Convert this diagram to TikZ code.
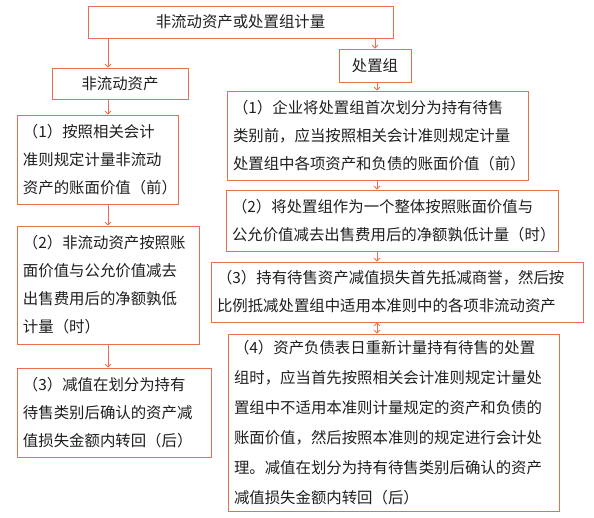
\documentclass[tikz,border=0pt]{standalone}
\usepackage{fontspec}
\setmainfont{Noto Sans CJK SC}
\usetikzlibrary{arrows.meta,positioning}
\definecolor{boxline}{RGB}{232,112,80}
\definecolor{boxtext}{RGB}{30,30,30}
\tikzset{
  stepbox/.style={draw=boxline, line width=0.8pt, rectangle, text=boxtext,
    inner xsep=6pt, inner ysep=0pt, align=left,
    font=\fontsize{15.4pt}{28pt}\selectfont},
  headbox/.style={stepbox, align=center},
  link/.style={draw=boxline, line width=0.8pt},
}

\begin{document}
\begin{tikzpicture}[x=1pt,y=1pt,>={Straight Barb[length=3pt,width=6pt]}]
                            % \draw[help lines] (0,0) grid[step=50] (594,517);
                            \useasboundingbox (0,0) rectangle (594,517);

                            \node[headbox, minimum width=305pt, minimum height=32pt] (total) at (240.5,495) {非流动资产或处置组计量};
                            \node[headbox, minimum width=136pt, minimum height=31pt] (nca)   at (120,433.5) {非流动资产};
                            \node[headbox, minimum width=72pt,  minimum height=33pt] (group) at (375,451.5) {处置组};

                            \node[stepbox, text width=149pt, minimum height=89pt]  (nca1) at (97.5,357.5) {（1）按照相关会计\\准则规定计量非流动\\资产的账面价值（前）};
                            \node[stepbox, text width=170pt, minimum height=118pt] (nca2) at (108,232) {（2）非流动资产按照账\\面价值与公允价值减去\\出售费用后的净额孰低\\计量（时）};
                            \node[stepbox, text width=182pt, minimum height=89pt]  (nca3) at (114,104.5) {（3）减值在划分为持有\\待售类别后确认的资产减\\值损失金额内转回（后）};

                            \node[stepbox, text width=289pt, minimum height=89pt]  (grp1) at (377.5,381.5) {（1）企业将处置组首次划分为持有待售\\类别前，应当按照相关会计准则规定计量\\处置组中各项资产和负债的账面价值（前）};
                            \node[stepbox, text width=320pt, minimum height=61pt]  (grp2) at (392,296.5) {（2）将处置组作为一个整体按照账面价值与\\公允价值减去出售费用后的净额孰低计量（时）};
                            \node[stepbox, text width=360pt, minimum height=60pt]  (grp3) at (397,225) {（3）持有待售资产减值损失首先抵减商誉，然后按\\比例抵减处置组中适用本准则中的各项非流动资产};
                            \node[stepbox, text width=319pt, minimum height=177pt, font=\fontsize{15.4pt}{30pt}\selectfont] (grp4) at (393.5,94.5) {（4）资产负债表日重新计量持有待售的处置\\组时，应当首先按照相关会计准则规定计量处\\置组中不适用本准则计量规定的资产和负债的\\账面价值，然后按照本准则的规定进行会计处\\理。减值在划分为持有待售类别后确认的资产\\减值损失金额内转回（后）};

                            \coordinate (lcol) at (108,0);
                            \coordinate (rcol) at (377,0);

                            \path[link,->]
                                (total.south -| lcol) edge (nca.north -| lcol)
                                (total.south -| group.north) edge (group.north)
                                (nca.south -| lcol)   edge (nca1.north -| lcol)
                                (nca1.south -| lcol)  edge (nca2.north -| lcol)
                                (nca2.south -| lcol)  edge (nca3.north -| lcol)
                                (group.south -| rcol) edge (grp1.north -| rcol)
                                (grp1.south -| rcol)  edge (grp2.north -| rcol)
                                (grp2.south -| rcol)  edge (grp3.north -| rcol)
                                (grp3.south -| rcol)  edge (grp4.north -| rcol);
                        \end{tikzpicture}
\end{document}
